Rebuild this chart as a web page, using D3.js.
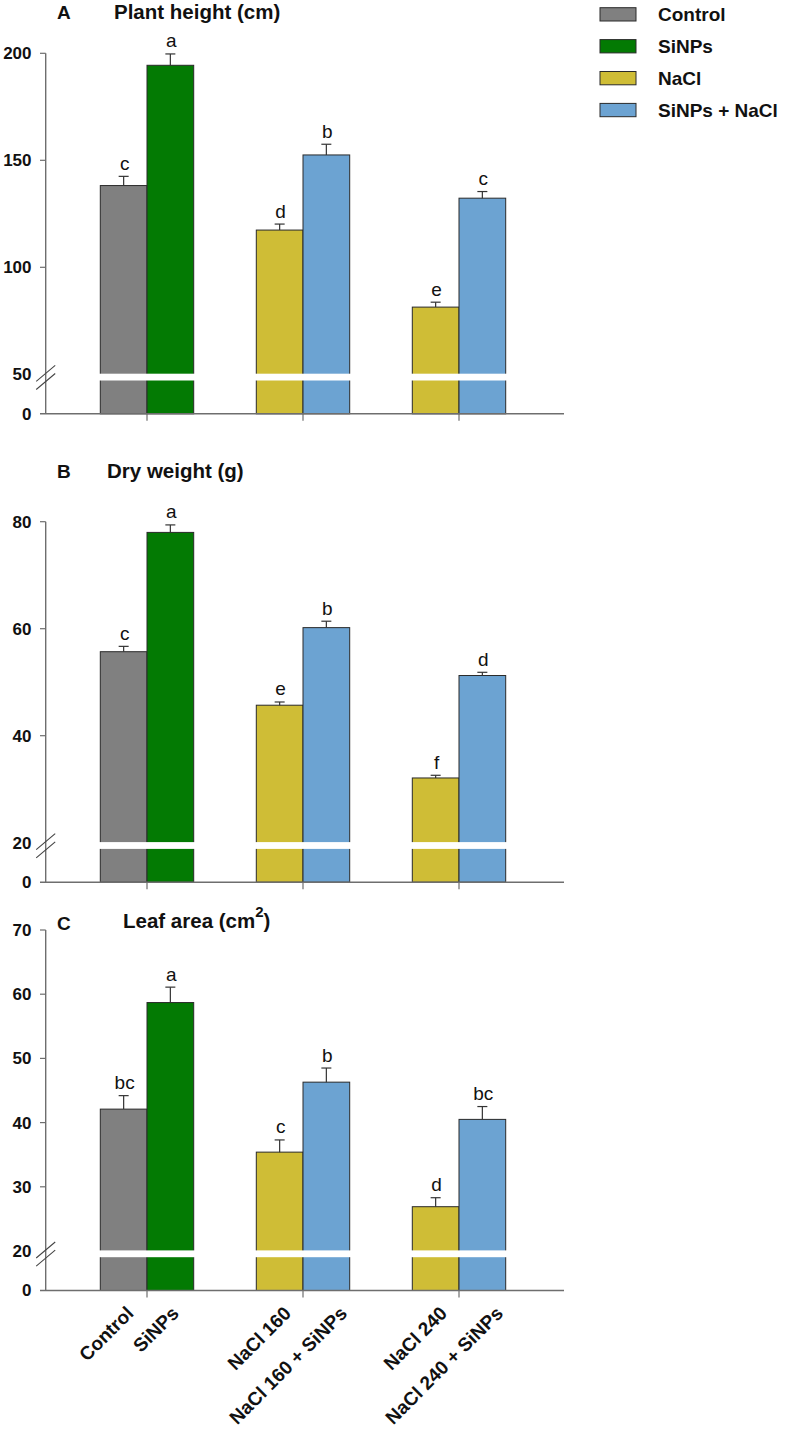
<!DOCTYPE html>
<html><head><meta charset="utf-8">
<script src="https://cdn.jsdelivr.net/npm/d3@7"></script>
<style>body{margin:0;background:#fff}</style>
</head><body><svg id="c" width="787" height="1429"></svg>
<script>
const treatments = ["Control","SiNPs","NaCl 160","NaCl 160 + SiNPs","NaCl 240","NaCl 240 + SiNPs"];
const groups = ["Control","NaCl 160","NaCl 240"];
const seriesNames = ["Control","SiNPs","NaCl","SiNPs + NaCl"];
const seriesColors = ["#808080","#037a03","#cfbd36","#6ca3d2"];
const barSeries = [0,1,2,3,2,3];
const barGroup = [0,0,1,1,2,2];
const barSide = [0,1,0,1,0,1];

const heightMean = [138.2,194.4,117.4,152.5,81.4,132.3];
const heightErr = [4.3,5.3,2.8,5.0,2.3,3.1];
const heightLetters = ["c","a","d","b","e","c"];
const heightTicks = [0,50,100,150,200];

const dryMean = [55.7,78.0,45.7,60.2,32.1,51.25];
const dryErr = [1.0,1.4,0.6,1.2,0.5,0.6];
const dryLetters = ["c","a","e","b","f","d"];
const dryTicks = [0,20,40,60,80];

const leafMean = [42.1,58.7,35.4,46.3,26.9,40.5];
const leafErr = [2.1,2.4,1.9,2.2,1.4,2.0];
const leafLetters = ["bc","a","c","b","d","bc"];
const leafTicks = [0,20,30,40,50,60,70];

const panels = [
  {tag:"A", title:"Plant height (cm)", sup:null, mean:heightMean, err:heightErr, letters:heightLetters, ticks:heightTicks, brk:50, max:200, top:53.3, tY:19, tX:114},
  {tag:"B", title:"Dry weight (g)", sup:null, mean:dryMean, err:dryErr, letters:dryLetters, ticks:dryTicks, brk:20, max:80, top:521.7, tY:478, tX:107},
  {tag:"C", title:"Leaf area (cm", sup:"2", mean:leafMean, err:leafErr, letters:leafLetters, ticks:leafTicks, brk:20, max:70, top:930, tY:928, tX:123}
];

const svg = d3.select("#c");
const axisX = 45.7, axisLeft = 40, axisRight = 564;
const upperH = 321, lowerH = 39.5, bw = 46.7;
const axisColor = "#6e6e6e";
const x = d3.scalePoint().domain(groups).range([147, 459]);

panels.forEach((p, pi) => {
  const g = svg.append("g");
  const y = d3.scaleLinear().domain([p.brk, p.max]).range([p.top + upperH, p.top]);
  const base = p.top + upperH + lowerH;
  const yb = y(p.brk);
  const barX = i => x(groups[barGroup[i]]) + (barSide[i] ? 0 : -bw);
  const barC = i => barX(i) + bw / 2;

  // bars
  g.selectAll("rect.bar").data(p.mean).join("rect")
    .attr("x", (d, i) => barX(i)).attr("width", bw)
    .attr("y", d => y(d)).attr("height", d => base - y(d))
    .attr("fill", (d, i) => seriesColors[barSeries[i]])
    .attr("stroke", "#2a2a2a").attr("stroke-width", 1);

  // break gap across bars
  g.selectAll("rect.gap").data(groups).join("rect")
    .attr("x", d => x(d) - bw - 1.5).attr("width", 2 * bw + 3)
    .attr("y", yb - 0.6).attr("height", 6.8).attr("fill", "#fff");

  // error bars
  const eb = g.selectAll("g.err").data(p.mean).join("g");
  eb.append("line").attr("x1", (d, i) => barC(i)).attr("x2", (d, i) => barC(i))
    .attr("y1", d => y(d)).attr("y2", (d, i) => y(d + p.err[i]))
    .attr("stroke", "#333").attr("stroke-width", 1.2);
  eb.append("line").attr("x1", (d, i) => barC(i) - 5).attr("x2", (d, i) => barC(i) + 5)
    .attr("y1", (d, i) => y(d + p.err[i])).attr("y2", (d, i) => y(d + p.err[i]))
    .attr("stroke", "#333").attr("stroke-width", 1.2);

  // letters
  g.selectAll("text.let").data(p.letters).join("text")
    .attr("x", (d, i) => barC(i) + 1).attr("y", (d, i) => y(p.mean[i] + p.err[i]) - 6.5)
    .attr("text-anchor", "middle").attr("font-family", "Liberation Sans, Arial, sans-serif")
    .attr("font-size", 19).attr("fill", "#111").text(d => d);

  // axes
  g.append("line").attr("x1", axisX).attr("x2", axisX).attr("y1", p.top).attr("y2", base)
    .attr("stroke", axisColor).attr("stroke-width", 1.4);
  g.append("line").attr("x1", axisLeft).attr("x2", axisRight).attr("y1", base).attr("y2", base)
    .attr("stroke", axisColor).attr("stroke-width", 1.4);
  g.selectAll("line.xt").data(groups).join("line")
    .attr("x1", d => x(d)).attr("x2", d => x(d)).attr("y1", base).attr("y2", base + 7)
    .attr("stroke", axisColor).attr("stroke-width", 1.2);

  p.ticks.forEach(t => {
    let ty;
    if (t === 0) ty = base;
    else if (t === p.brk) ty = yb;
    else {
      ty = y(t);
      g.append("line").attr("x1", axisLeft).attr("x2", axisX).attr("y1", ty).attr("y2", ty)
        .attr("stroke", axisColor).attr("stroke-width", 1.2);
    }
    g.append("text").attr("x", 31.5).attr("y", ty).attr("dy", "0.35em")
      .attr("text-anchor", "end").attr("font-family", "Liberation Sans, Arial, sans-serif")
      .attr("font-weight", "bold").attr("font-size", 17).attr("fill", "#111").text(t);
  });

  // break slashes
  const yc = yb + 3;
  [-4, 4.2].forEach(o => {
    g.append("line").attr("x1", axisX - 9.5).attr("y1", yc + o + 8)
      .attr("x2", axisX + 9.5).attr("y2", yc + o - 8)
      .attr("stroke", "#444").attr("stroke-width", 1.1);
  });

  // titles
  g.append("text").attr("x", 57).attr("y", p.tY + (p.tag === "C" ? 2 : 0))
    .attr("font-family", "Liberation Sans, Arial, sans-serif").attr("font-weight", "bold")
    .attr("font-size", 19).attr("fill", "#111").text(p.tag);
  const tt = g.append("text").attr("x", p.tX).attr("y", p.tY)
    .attr("font-family", "Liberation Sans, Arial, sans-serif").attr("font-weight", "bold")
    .attr("font-size", 20.5).attr("fill", "#111");
  tt.append("tspan").text(p.title);
  if (p.sup) {
    tt.append("tspan").attr("dy", -11).attr("font-size", 15).text(p.sup);
    tt.append("tspan").attr("dy", 11).text(")");
  }

  // x labels on the last panel
  if (pi === panels.length - 1) {
    g.selectAll("text.xl").data(treatments).join("text")
      .attr("font-family", "Liberation Sans, Arial, sans-serif").attr("font-weight", "bold")
      .attr("font-size", 19).attr("fill", "#111").attr("text-anchor", "end")
      .text(d => d)
      .each(function(d, i) {
        const w = this.getComputedTextLength();
        const ax = barC(i) + 3 + 0.12 * w, ay = base + 24;
        d3.select(this).attr("transform", `translate(${ax},${ay}) rotate(-45)`);
      });
  }
});

// legend
const lg = svg.append("g");
seriesNames.forEach((s, i) => {
  const ly = 7.7 + i * 31.9;
  lg.append("rect").attr("x", 600).attr("y", ly).attr("width", 36).attr("height", 13.3)
    .attr("fill", seriesColors[i]).attr("stroke", "#2a2a2a").attr("stroke-width", 1);
  lg.append("text").attr("x", 658).attr("y", ly + 6.7).attr("dy", "0.36em")
    .attr("font-family", "Liberation Sans, Arial, sans-serif").attr("font-weight", "bold")
    .attr("font-size", 19).attr("fill", "#111").text(s);
});
</script></body></html>
